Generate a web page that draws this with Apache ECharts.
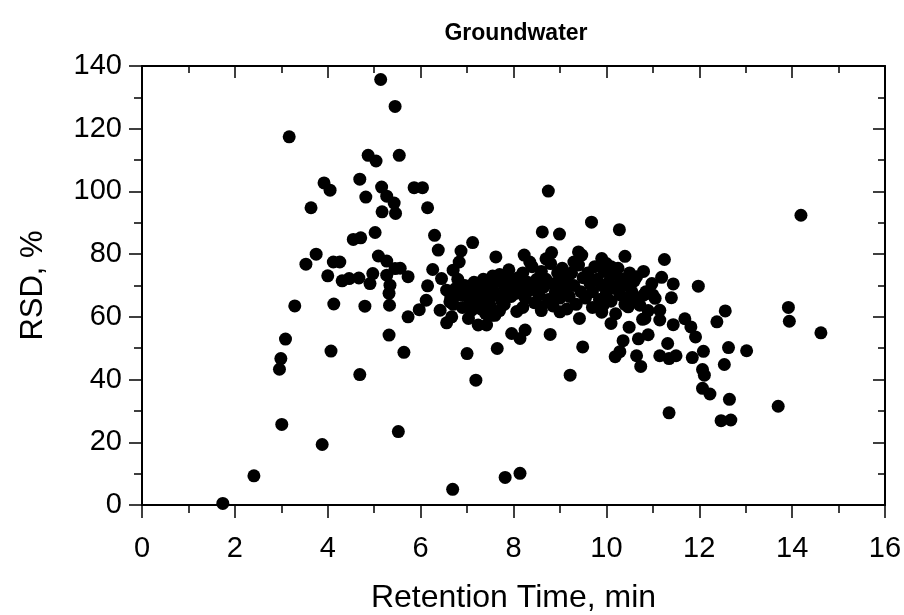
<!DOCTYPE html>
<html>
<head>
<meta charset="utf-8">
<script src="https://cdn.jsdelivr.net/npm/echarts@6/dist/echarts.min.js"></script>
<style>html,body{margin:0;padding:0;background:#fff}#c{width:904px;height:615px}</style>
</head>
<body>
<div id="c"></div>
<script>
// Early eluting compounds (retention time, min / RSD, %)
const rtEarly = [1.74,2.41,3.01,3.88,2.96,2.99,3.09,4.07,4.69,3.29,4.13,4.80,5.32,5.14,3.17,4.87,5.04,4.69,3.92,4.05,3.64,4.82,5.16,5.17,5.02,5.45,5.54,5.86,6.04,6.15,6.30,5.27,5.43,5.46,4.55,4.71,3.75,3.53,4.12,4.26,4.00,4.31,4.46,4.67,5.09,5.27,5.45,4.97,4.91,5.27,5.34,5.32,5.33,5.73,5.73,5.64,5.52,5.56,6.15,6.12,5.97,6.42,6.26,6.38,6.45];
const rsdEarly = [0.5,9.3,25.7,19.3,43.3,46.7,52.9,49.1,41.6,63.5,64.1,63.4,54.2,135.7,117.4,111.5,109.7,103.9,102.7,100.4,94.8,98.2,101.4,93.5,86.9,127.1,111.5,101.2,101.2,94.8,86.0,98.5,96.3,93.0,84.7,85.2,80.0,76.8,77.5,77.5,73.1,71.5,72.2,72.4,79.4,77.8,75.4,73.8,70.6,73.3,70.1,67.5,63.7,72.8,60.0,48.7,23.4,75.5,69.9,65.3,62.3,62.1,75.1,81.3,72.2];

// Middle region
const rtMid = [6.56,6.67,6.87,6.83,6.70,7.12,7.62,8.23,8.62,8.99,8.82,7.10,7.03,7.24,7.42,7.53,8.07,7.96,8.14,8.25,8.79,7.00,7.65,7.19,9.22,9.49,6.69,7.82,8.14,8.75,9.40,9.47,8.59,9.00,9.42,6.56,6.63];
const rsdMid = [58.1,60.0,81.0,77.5,74.9,83.7,79.1,79.7,87.1,86.4,80.5,62.1,59.5,57.4,57.4,60.5,61.7,54.7,53.1,55.8,54.4,48.3,49.9,39.8,41.4,50.4,5.0,8.8,10.1,100.1,80.7,79.7,63.2,61.6,59.5,68.5,64.8];

// Dense cluster
const rtCluster = [6.65,6.70,6.75,6.80,6.85,6.90,6.95,7.00,7.05,7.10,7.15,7.20,7.25,7.30,7.35,7.40,7.45,7.50,7.30,7.40,7.50,7.55,7.55,7.60,7.65,7.70,7.75,7.80,7.85,7.90,7.95,8.00,7.60,7.70,7.80,7.90,8.05,8.10,8.15,8.20,8.25,8.30,8.35,8.40,8.45,8.50,8.20,8.35,8.45,8.55,8.60,8.65,8.70,8.75,8.80,8.85,8.90,8.95,9.00,8.60,8.70,8.85,9.00,9.05,9.10,9.15,9.20,9.25,9.30,9.35,9.40,9.45,9.50,9.15,9.30,9.55,9.60,9.65,9.70,9.75,9.80,9.85,9.90,9.95,10.00,9.70,9.90,10.00,10.05,10.10,10.15,10.20,10.25,10.30,10.35,10.40,10.45,10.50,10.20,10.10,10.55,10.60,10.65,10.80,10.85,10.90,11.00];
const rsdCluster = [66,64,69,72,67,63,70,66.5,68,64.5,71,67,69.5,65,72,68,70.5,66,62.5,61,63.5,73,69,71.5,67,73.5,65,70,68,72,66.5,70.5,60.5,62,64,75,67.5,72.5,69,74,66,71,68.5,76,64.5,72,63,77.5,70,67,74.5,69.5,72,65.5,77,70.5,68,74,66,62,78.5,63.5,71.5,75.5,69,72.5,66.5,74,70,64,76.5,68,72.5,62.5,77.5,66,74,70.5,68,76,72,65.5,70,74.5,67.5,63,61.5,77,71,65,73.5,69,75.5,67,72,64,70,74,61,76,68,71.5,65.5,74.5,68,62,67];

// Late eluting compounds
const rtLate = [9.68,10.28,9.90,10.40,11.25,11.44,11.98,11.40,12.56,12.38,10.10,10.49,10.83,11.15,11.44,11.69,11.82,11.92,10.90,10.69,10.36,11.32,10.19,10.65,11.15,11.35,11.50,11.85,12.09,12.63,13.02,12.54,12.07,12.11,12.07,12.23,12.65,11.35,13.70,12.47,12.68,13.92,13.94,14.62,14.19,10.74,10.29,10.78,11.19,10.98,10.80,11.05,10.44,10.47,10.72,11.15,10.29,10.65,9.93];
const rsdLate = [90.2,87.8,78.6,79.3,78.3,70.5,69.8,66.1,61.9,58.4,57.9,56.7,59.5,59.0,57.5,59.4,56.8,53.6,54.3,53.0,52.4,51.5,47.3,47.6,47.6,46.7,47.6,47.0,49.0,50.2,49.2,44.8,43.2,41.4,37.2,35.4,33.7,29.4,31.5,26.9,27.1,63.0,58.6,54.9,92.4,44.2,48.9,59.2,72.6,70.6,66.9,65.9,65.3,63.2,63.7,62.1,70.6,72.8,63.7];

const xTicks = [0,2,4,6,8,10,12,14,16];
const yTicks = [0,20,40,60,80,100,120,140];

function pairs(xs, ys){ return xs.map((x,i)=>[x, ys[i]]); }
const points = [].concat(pairs(rtEarly,rsdEarly), pairs(rtMid,rsdMid), pairs(rtCluster,rsdCluster), pairs(rtLate,rsdLate));

const FONT = 'Liberation Sans, Arial, sans-serif';
const lineS = {color:'#000', width:2};
const chart = echarts.init(document.getElementById('c'), null, {renderer:'canvas'});
chart.setOption({
  animation:false,
  backgroundColor:'#fff',
  title:{text:'Groundwater', left:511, textAlign:'center', top:17,
    textStyle:{fontFamily:FONT, fontWeight:'bold', fontSize:23, color:'#000'}},
  grid:{left:142, right:19, top:66, bottom:110, containLabel:false, outerBoundsMode:'none'},
  xAxis:[{
    type:'value', min:xTicks[0], max:xTicks[xTicks.length-1], interval:2, position:'bottom',
    name:'Retention Time, min', nameLocation:'middle', nameGap:77,
    nameTextStyle:{fontFamily:FONT, fontSize:32, color:'#000'},
    axisLine:{show:true, onZero:false, lineStyle:lineS},
    axisTick:{show:true, inside:false, length:13, lineStyle:{color:'#000', width:1.5}},
    minorTick:{show:true, splitNumber:2, length:8, lineStyle:{color:'#000', width:1.5}},
    axisLabel:{fontFamily:FONT, fontSize:29, color:'#000', margin:29},
    splitLine:{show:false}, minorSplitLine:{show:false}
  },{
    type:'value', min:xTicks[0], max:xTicks[xTicks.length-1], interval:2, position:'top',
    axisLine:{show:true, onZero:false, lineStyle:lineS},
    axisTick:{show:true, inside:true, length:12, lineStyle:{color:'#000', width:1.5}},
    minorTick:{show:true, splitNumber:2, length:7, lineStyle:{color:'#000', width:1.5}},
    axisLabel:{show:false}, splitLine:{show:false}
  }],
  yAxis:[{
    type:'value', min:yTicks[0], max:yTicks[yTicks.length-1], interval:20, position:'left',
    name:'RSD, %', nameLocation:'middle', nameGap:93, nameRotate:90,
    nameTextStyle:{fontFamily:FONT, fontSize:31, color:'#000'},
    axisLine:{show:true, onZero:false, lineStyle:lineS},
    axisTick:{show:true, inside:false, length:13, lineStyle:{color:'#000', width:1.5}},
    minorTick:{show:true, splitNumber:2, length:8, lineStyle:{color:'#000', width:1.5}},
    axisLabel:{fontFamily:FONT, fontSize:29, color:'#000', margin:20},
    splitLine:{show:false}
  },{
    type:'value', min:yTicks[0], max:yTicks[yTicks.length-1], interval:20, position:'right',
    axisLine:{show:true, onZero:false, lineStyle:lineS},
    axisTick:{show:true, inside:true, length:12, lineStyle:{color:'#000', width:1.5}},
    minorTick:{show:true, splitNumber:2, length:7, lineStyle:{color:'#000', width:1.5}},
    axisLabel:{show:false}, splitLine:{show:false}
  }],
  series:[{
    type:'scatter', xAxisIndex:0, yAxisIndex:0, data:points,
    symbol:'circle', symbolSize:13, itemStyle:{color:'#000', opacity:1}
  }]
});
</script>
</body>
</html>
